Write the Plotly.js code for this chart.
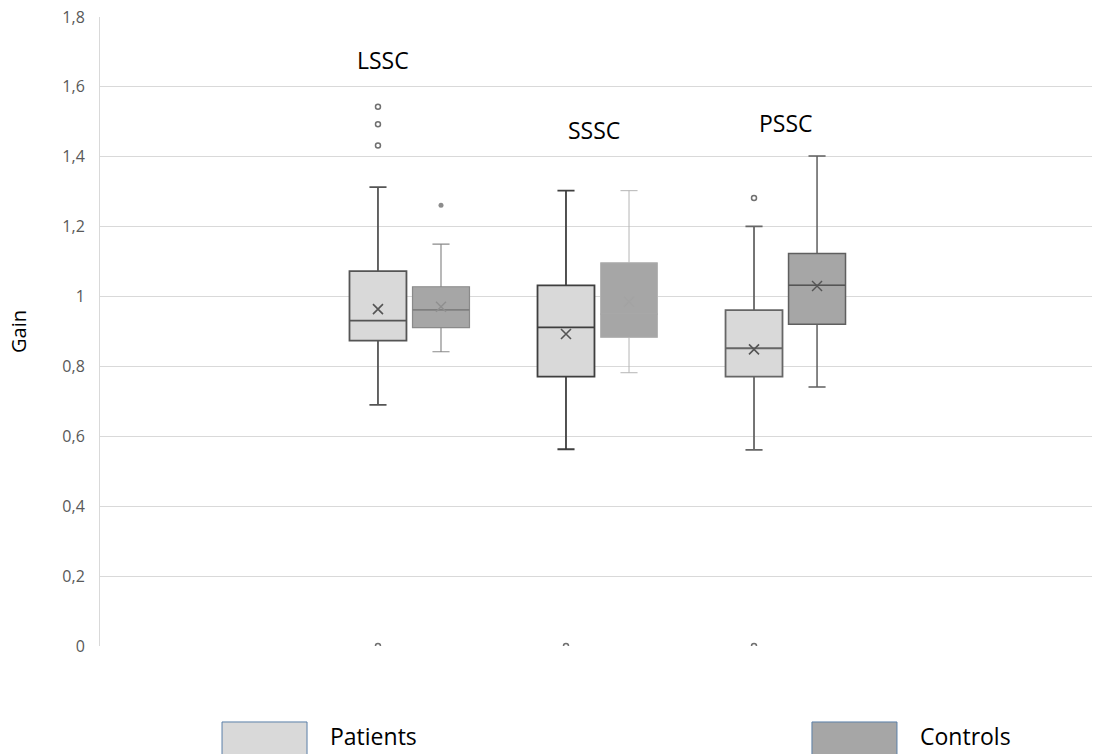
<!DOCTYPE html>
<html>
<head>
<meta charset="utf-8">
<script src="https://cdn.plot.ly/plotly-3.0.1.min.js"></script>
<style>html,body{margin:0;padding:0;background:#fff;}#chart{width:1094px;height:754px;}</style>
</head>
<body>
<div id="chart"></div>
<script>
// ---- data ----
const groups = ['LSSC', 'SSSC', 'PSSC'];
const seriesNames = ['Patients', 'Controls'];

const patientsLowerFence = [0.690, 0.563, 0.561];
const patientsQ1         = [0.874, 0.771, 0.771];
const patientsMedian     = [0.931, 0.912, 0.852];
const patientsQ3         = [1.073, 1.032, 0.961];
const patientsUpperFence = [1.313, 1.303, 1.201];
const patientsMean       = [0.964, 0.893, 0.849];
const patientsOutliers   = [[1.543, 1.493, 1.432, 0], [0], [1.282, 0]];

const controlsLowerFence = [0.842, 0.782, 0.741];
const controlsQ1         = [0.911, 0.883, 0.921];
const controlsMedian     = [0.962, 0.950, 1.032];
const controlsQ3         = [1.028, 1.097, 1.123];
const controlsUpperFence = [1.150, 1.303, 1.402];
const controlsMean       = [0.971, 0.985, 1.030];
const controlsOutliers   = [[1.261], [], []];

const yTickVals  = [0, 0.2, 0.4, 0.6, 0.8, 1, 1.2, 1.4, 1.6, 1.8];
const yTickText  = ['0', '0,2', '0,4', '0,6', '0,8', '1', '1,2', '1,4', '1,6', '1,8'];

// ---- styles ----
const offset = 0.1676, boxW = 0.303;
const patFill = '#d9d9d9', ctlFill = '#a6a6a6';
const patLine = ['#555555', '#3f3f3f', '#666666'];
const ctlLine = ['#8a8a8a', '#b5b5b5', '#5f5f5f'];
const ctlLineW = [1.2, 1, 1.5];
const ctlMeanCol = ['#8f8f8f', '#a3a3a3', '#555555'];
const ctlMedCol = ['#7a7a7a', '#a3a3a3', '#555555'];

const traces = [];
groups.forEach((g, i) => {
  const xp = i + 1 - offset, xc = i + 1 + offset;
  traces.push({
    type: 'box', x: [xp], q1: [patientsQ1[i]], median: [patientsMedian[i]], q3: [patientsQ3[i]],
    lowerfence: [patientsLowerFence[i]], upperfence: [patientsUpperFence[i]],
    width: boxW, whiskerwidth: 0.3, fillcolor: patFill,
    line: {color: patLine[i], width: 1.8}, boxpoints: false, showlegend: false, hoverinfo: 'skip'
  });
  traces.push({
    type: 'box', x: [xc], q1: [controlsQ1[i]], median: [controlsMedian[i]], q3: [controlsQ3[i]],
    lowerfence: [controlsLowerFence[i]], upperfence: [controlsUpperFence[i]],
    width: boxW, whiskerwidth: 0.3, fillcolor: ctlFill,
    line: {color: ctlLine[i], width: ctlLineW[i]}, boxpoints: false, showlegend: false, hoverinfo: 'skip'
  });
  traces.push({
    type: 'scatter', mode: 'lines', x: [xc - boxW / 2, xc + boxW / 2], y: [controlsMedian[i], controlsMedian[i]],
    line: {color: ctlMedCol[i], width: 1.3}, showlegend: false, hoverinfo: 'skip'
  });
  traces.push({
    type: 'scatter', mode: 'markers', x: [xp], y: [patientsMean[i]],
    marker: {symbol: 'x-thin', size: 10, color: '#555555', line: {color: '#555555', width: 1.6}},
    showlegend: false, hoverinfo: 'skip'
  });
  traces.push({
    type: 'scatter', mode: 'markers', x: [xc], y: [controlsMean[i]],
    marker: {symbol: 'x-thin', size: 10, color: ctlMeanCol[i], line: {color: ctlMeanCol[i], width: 1.4}},
    showlegend: false, hoverinfo: 'skip'
  });
  if (patientsOutliers[i].length) traces.push({
    type: 'scatter', mode: 'markers', x: patientsOutliers[i].map(() => xp), y: patientsOutliers[i],
    marker: {symbol: 'circle-open', size: 5, color: '#707070', line: {color: '#707070', width: 1.5}},
    showlegend: false, hoverinfo: 'skip'
  });
  if (controlsOutliers[i].length) traces.push({
    type: 'scatter', mode: 'markers', x: controlsOutliers[i].map(() => xc), y: controlsOutliers[i],
    marker: {symbol: 'circle', size: 5, color: '#8c8c8c'},
    showlegend: false, hoverinfo: 'skip'
  });
});

const labelY = [1.677, 1.477, 1.497];
const labelX = [1 - 0.14, 2 - 0.02, 3 + 0.005];
const annotations = groups.map((g, i) => ({
  x: labelX[i], y: labelY[i], xref: 'x', yref: 'y', text: g, showarrow: false,
  font: {family: 'Open Sans, sans-serif', size: 23, color: '#000'}
}));
const legendBoxX = [[0.123, 0.2087], [0.7177, 0.8034]];
const legendTextX = [0.2299, 0.8246];
const shapes = [];
seriesNames.forEach((s, i) => {
  shapes.push({type: 'rect', xref: 'paper', yref: 'paper', x0: legendBoxX[i][0], x1: legendBoxX[i][1],
    y0: -0.19, y1: -0.1208, fillcolor: i === 0 ? patFill : ctlFill, line: {color: '#5a7fa8', width: 1}});
  annotations.push({xref: 'paper', yref: 'paper', x: legendTextX[i], y: -0.1431, xanchor: 'left', yanchor: 'middle',
    text: s, showarrow: false, font: {family: 'Open Sans, sans-serif', size: 23, color: '#000'}});
});

const layout = {
  width: 1094, height: 754,
  margin: {l: 100, r: 2, t: 17, b: 108},
  paper_bgcolor: '#fff', plot_bgcolor: '#fff',
  showlegend: false,
  xaxis: {range: [-0.646, 4.63], showgrid: false, zeroline: false, showticklabels: false, ticks: '', showline: false, fixedrange: true},
  yaxis: {range: [0, 1.8], tickvals: yTickVals, ticktext: yTickText, showgrid: true, gridcolor: '#d9d9d9', gridwidth: 1,
    zeroline: false, showline: true, linecolor: '#d9d9d9', linewidth: 1, ticks: '', ticklabelstandoff: 11,
    tickfont: {family: 'Open Sans, sans-serif', size: 16, color: '#595959'},
    title: {text: 'Gain', font: {family: 'Open Sans, sans-serif', size: 20, color: '#000'}, standoff: 30}},
  annotations: annotations,
  shapes: shapes
};
Plotly.newPlot('chart', traces, layout, {displayModeBar: false, staticPlot: true});
</script>
</body>
</html>
